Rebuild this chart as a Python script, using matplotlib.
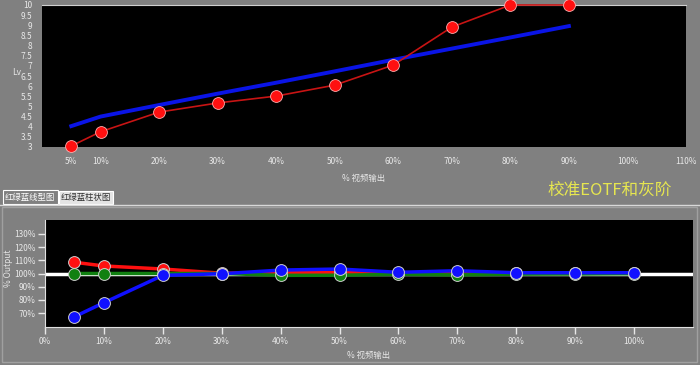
import matplotlib
matplotlib.use("Agg")
import matplotlib.pyplot as plt
from matplotlib.patches import Rectangle
from matplotlib.lines import Line2D

plt.rcParams['font.family'] = ['Noto Sans CJK SC', 'DejaVu Sans']

# top chart: luminance vs input level
top_pct = [5, 10, 20, 30, 40, 50, 60, 70, 80, 90]
lum_measured = [3.05, 3.75, 4.72, 5.17, 5.51, 6.05, 7.04, 8.91, 10.0, 10.0]
lum_target = [4.03, 4.50, 5.07, 5.63, 6.17, 6.73, 7.30, 7.85, 8.40, 8.96]
top_xticks = [5, 10, 20, 30, 40, 50, 60, 70, 80, 90, 100, 110]
top_yticks = [3, 3.5, 4, 4.5, 5, 5.5, 6, 6.5, 7, 7.5, 8, 8.5, 9, 9.5, 10]

# bottom chart: RGB balance (% output)
bot_pct = [5, 10, 20, 30, 40, 50, 60, 70, 80, 90, 100]
red_out = [108.5, 105.7, 103.4, 100.2, 100.6, 100.8, 100.2, 100.4, 100.2, 100.2, 100.2]
green_out = [100.0, 100.0, 100.0, 100.0, 98.6, 98.7, 99.4, 98.9, 99.5, 99.6, 99.8]
blue_out = [67.3, 77.9, 98.6, 99.8, 102.6, 103.4, 100.9, 102.1, 100.6, 100.6, 100.6]
bot_xticks = [0, 10, 20, 30, 40, 50, 60, 70, 80, 90, 100]
bot_yticks = [70, 80, 90, 100, 110, 120, 130]

gray = '#808080'
txt = '#e8e8e8'
W, H = 700, 365

fig = plt.figure(figsize=(7, 3.65), dpi=100, facecolor=gray)

def fx(px):
    return px / W

def fy(py):
    return 1 - py / H

# ---- top plot
ax1 = fig.add_axes([fx(42), fy(147), fx(686 - 42), (147 - 5) / H])
ax1.set_facecolor('black')
ax1.plot(top_pct, lum_target, color='#0a14e6', lw=2.8, zorder=2)
ax1.plot(top_pct, lum_measured, color='#c81414', lw=1.2, marker='o', ms=8.5,
         mfc='#ff1010', mec='#ffb0b0', mew=0.6, zorder=3, clip_on=False)
ax1.set_xlim(0, 110)
ax1.set_ylim(3, 10)
ax1.set_xticks(top_xticks)
ax1.set_xticklabels([f'{v}%' for v in top_xticks])
ax1.set_yticks(top_yticks)
ax1.set_yticklabels([f'{v:g}' for v in top_yticks])
ax1.tick_params(length=0, labelsize=6, colors=txt, pad=7)
for s in ax1.spines.values():
    s.set_visible(False)
ax1.spines['top'].set_visible(True)
ax1.spines['top'].set_color('#d0d0d0')
ax1.set_ylabel('Lv', rotation=0, color=txt, fontsize=6, labelpad=6)
ax1.yaxis.set_label_coords(-0.04, 0.49)
ax1.set_xlabel('% 视频输出', color=txt, fontsize=6, labelpad=6)

# ---- title text
fig.text(fx(610), fy(190), '校准EOTF和灰阶', color='#e6e650', fontsize=12,
         ha='center', va='center')

# ---- tabs
fig.patches.append(Rectangle((fx(3), fy(204)), fx(55), 14 / H, transform=fig.transFigure,
                             facecolor=gray, edgecolor='white', lw=0.8))
fig.patches.append(Rectangle((fx(59), fy(204)), fx(54), 13 / H, transform=fig.transFigure,
                             facecolor='#e4e4e4', edgecolor='white', lw=0.8))
fig.text(fx(30), fy(197), '红绿蓝线型图', color='white', fontsize=6, ha='center', va='center')
fig.text(fx(86), fy(197.5), '红绿蓝柱状图', color='#303030', fontsize=6, ha='center', va='center')
fig.lines.append(Line2D([fx(0), fx(700)], [fy(204.5), fy(204.5)], transform=fig.transFigure,
                        color='#d8d8d8', lw=1))
fig.patches.append(Rectangle((fx(2), fy(362)), fx(695), 155 / H, transform=fig.transFigure,
                             facecolor='none', edgecolor='#a0a0a0', lw=1))

# ---- bottom plot
ax2 = fig.add_axes([fx(45), fy(327), fx(693 - 45), (327 - 220) / H])
ax2.set_facecolor('black')
ax2.axhline(100, color='white', lw=2.5, zorder=1)
for vals, c in [(red_out, '#ff1010'), (green_out, '#108010'), (blue_out, '#1010ff')]:
    ax2.plot(bot_pct, vals, color=c, lw=2.5, marker='o', ms=8.5, mfc=c,
             mec='#d0d0d0', mew=0.7, zorder=2)
ax2.set_xlim(0, 110)
ax2.set_ylim(59.5, 140.5)
ax2.set_xticks(bot_xticks)
ax2.set_xticklabels([f'{v}%' for v in bot_xticks])
ax2.set_yticks(bot_yticks)
ax2.set_yticklabels([f'{v}%' for v in bot_yticks])
ax2.tick_params(length=5, width=1, direction='out', labelsize=6, colors=txt, pad=2)
for s in ['top', 'right']:
    ax2.spines[s].set_visible(False)
for s in ['left', 'bottom']:
    ax2.spines[s].set_color('#e0e0e0')
ax2.set_ylabel('% Output', color=txt, fontsize=6)
ax2.yaxis.set_label_coords(-0.05, 0.55)
ax2.set_xlabel('% 视频输出', color=txt, fontsize=6, labelpad=4)

fig.savefig('out.png', dpi=100, facecolor=gray)
